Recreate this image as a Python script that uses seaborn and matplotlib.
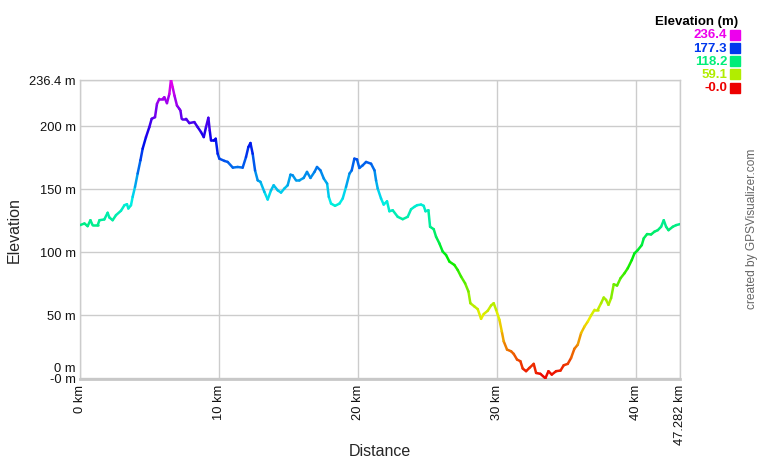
import colorsys
import matplotlib
matplotlib.use("Agg")
import matplotlib.pyplot as plt
import matplotlib.transforms as mtransforms
from matplotlib.colors import ListedColormap
from matplotlib.patches import Rectangle
import numpy as np
import pandas as pd
import seaborn as sns

# Elevation profile (km, m)
dist_km = [0.0, 0.32, 0.55, 0.75, 0.91, 1.27, 1.4, 1.75, 1.99, 2.11, 2.35, 2.59, 2.95, 3.2, 3.38, 3.48,
           3.67, 3.79, 3.96, 4.15, 4.35, 4.51, 4.75, 4.99, 5.16, 5.4, 5.54, 5.71, 5.95, 6.07, 6.26, 6.43,
           6.55, 6.67, 6.8, 6.98, 7.15, 7.23, 7.32, 7.63, 7.87, 8.23, 8.47, 8.71, 8.91, 9.07, 9.24, 9.34,
           9.43, 9.63, 9.77, 9.91, 10.03, 10.4, 10.63, 11.0, 11.35, 11.71, 11.95, 12.12, 12.27, 12.43,
           12.6, 12.79, 12.99, 13.27, 13.51, 13.75, 13.94, 14.23, 14.47, 14.71, 14.95, 15.15, 15.31,
           15.55, 15.79, 16.1, 16.34, 16.59, 16.88, 17.06, 17.31, 17.55, 17.79, 17.91, 18.07, 18.36,
           18.68, 18.91, 19.15, 19.4, 19.56, 19.75, 19.94, 20.11, 20.35, 20.59, 20.95, 21.2, 21.31,
           21.43, 21.67, 21.86, 22.1, 22.27, 22.51, 22.87, 23.23, 23.59, 23.83, 24.07, 24.26, 24.55,
           24.74, 24.87, 25.08, 25.2, 25.46, 25.63, 25.87, 26.11, 26.35, 26.59, 26.95, 27.19, 27.43,
           27.72, 27.96, 28.1, 28.39, 28.63, 28.87, 29.06, 29.35, 29.59, 29.78, 29.95, 30.19, 30.36,
           30.5, 30.74, 31.03, 31.22, 31.46, 31.7, 31.87, 32.11, 32.35, 32.66, 32.83, 33.14, 33.5,
           33.72, 33.96, 34.27, 34.59, 34.82, 35.11, 35.35, 35.59, 35.83, 36.07, 36.32, 36.56, 36.79,
           37.04, 37.27, 37.51, 37.7, 37.87, 38.04, 38.23, 38.42, 38.66, 38.91, 39.19, 39.43, 39.72,
           39.91, 40.15, 40.44, 40.58, 40.82, 41.11, 41.35, 41.59, 41.83, 42.02, 42.19, 42.36, 42.67,
           42.91, 43.19]
elev_m = [121.1, 122.4, 120.3, 125.0, 121.0, 121.0, 125.0, 125.6, 130.9, 127.2, 125.0, 129.0, 132.5,
          136.9, 137.7, 134.3, 136.9, 143.5, 151.4, 162.0, 172.5, 181.7, 190.9, 198.8, 205.4, 206.7,
          217.2, 221.2, 221.2, 222.5, 217.8, 225.1, 236.4, 230.4, 223.8, 215.9, 213.3, 211.9, 205.4,
          205.4, 202.0, 202.8, 198.8, 194.9, 190.9, 198.8, 206.2, 196.1, 188.2, 188.2, 189.6, 177.7,
          173.8, 172.0, 171.2, 166.7, 167.2, 166.7, 175.1, 183.0, 186.2, 177.7, 164.5, 156.6, 155.4,
          147.5, 141.4, 148.7, 152.7, 148.7, 146.9, 150.1, 152.7, 161.1, 160.6, 156.6, 156.6, 158.5,
          163.3, 158.5, 163.3, 167.2, 164.5, 158.0, 154.0, 143.5, 138.2, 136.4, 138.2, 142.2, 151.4,
          162.0, 164.5, 173.8, 173.2, 166.4, 168.5, 171.2, 169.8, 164.5, 156.6, 150.1, 142.2, 137.4,
          140.0, 132.1, 132.9, 127.7, 125.8, 127.7, 133.7, 135.6, 136.9, 137.4, 136.4, 132.1, 132.9,
          119.8, 117.9, 111.9, 106.6, 100.1, 97.4, 92.2, 89.5, 85.5, 80.3, 75.0, 68.5, 59.2, 56.6,
          54.5, 46.8, 50.6, 53.2, 57.4, 59.2, 54.0, 46.1, 36.9, 29.0, 22.4, 21.1, 19.0, 14.5, 13.2,
          7.4, 5.3, 7.9, 11.1, 3.9, 3.2, -0.3, 5.3, 2.6, 5.3, 5.8, 10.0, 11.1, 15.8, 23.1, 26.3, 35.5,
          40.8, 44.8, 49.5, 54.0, 54.0, 59.2, 63.7, 61.8, 57.9, 63.2, 74.2, 73.2, 79.0, 82.9, 86.9,
          93.4, 98.7, 101.3, 105.3, 110.6, 114.0, 113.7, 115.9, 117.1, 119.8, 125.0, 119.8, 117.1,
          119.8, 121.1, 121.9]

legend_values = [236.4, 177.3, 118.2, 59.1, -0.0]
legend_labels = ["236.4", "177.3", "118.2", "59.1", "-0.0"]
y_ticks = [-0.5, 0, 50, 100, 150, 200, 236.4]
y_tick_labels = ["-0 m", "0 m", "50 m", "100 m", "150 m", "200 m", "236.4 m"]
x_ticks = [0, 10, 20, 30, 40, 43.19]
x_tick_labels = ["0 km", "10 km", "20 km", "30 km", "40 km", "47.282 km"]

ELEV_MIN, ELEV_MAX = 0.0, 236.4

# red -> yellow -> green -> blue -> magenta, like GPS Visualizer
cmap = ListedColormap([colorsys.hsv_to_rgb(h, 1.0, 0.93) for h in np.linspace(0, 300 / 360, 256)])

# one small line per segment so the colour follows elevation
rows = []
for i in range(len(dist_km) - 1):
    c = (elev_m[i] + elev_m[i + 1]) / 2
    rows.append({"seg": i, "km": dist_km[i], "m": elev_m[i], "col": c})
    rows.append({"seg": i, "km": dist_km[i + 1], "m": elev_m[i + 1], "col": c})
seg_df = pd.DataFrame(rows)

sns.set_style("white")
plt.rcParams["font.family"] = ["Liberation Sans", "DejaVu Sans"]

fig = plt.figure(figsize=(7.6, 4.6), dpi=100)
ax = fig.add_axes([80 / 760, 1 - 379.5 / 460, 600 / 760, 298.8 / 460])

sns.lineplot(data=seg_df, x="km", y="m", hue="col", units="seg", estimator=None,
             palette=cmap, hue_norm=(ELEV_MIN, ELEV_MAX), legend=False,
             linewidth=1.8, ax=ax, zorder=3)

ax.set_xlim(0, 43.19)
ax.set_ylim(-0.5, 236.4)
ax.set_yticks(y_ticks)
ax.set_yticklabels(y_tick_labels)
ax.set_xticks(x_ticks)
ax.set_xticklabels(x_tick_labels, rotation=90)
ax.tick_params(axis="both", length=0, labelsize=9.3, colors="#111111")
ax.tick_params(axis="y", pad=3)
ax.tick_params(axis="x", pad=4)

# lift the two stacked zero labels like the original
offsets = {"0 m": 11, "-0 m": 1}
for lab in ax.get_yticklabels():
    if lab.get_text() in offsets:
        dy = offsets[lab.get_text()] / 100
        lab.set_transform(lab.get_transform() + mtransforms.ScaledTranslation(0, dy, fig.dpi_scale_trans))

ax.grid(True, color="#cccccc", linewidth=1)
for side in ["top", "right", "left"]:
    ax.spines[side].set_color("#cccccc")
    ax.spines[side].set_linewidth(1)
ax.spines["bottom"].set_color("#c8c8c8")
ax.spines["bottom"].set_linewidth(2)

ax.set_xlabel("Distance", fontsize=11.5)
ax.set_ylabel("Elevation", fontsize=11.5)
ax.xaxis.set_label_coords(0.5, -0.215)
ax.yaxis.set_label_coords(-0.097, 0.5)

# colour legend at top right
fig.text(738 / 760, 1 - 22 / 460, "Elevation (m)", ha="right", va="center",
         fontsize=9.5, fontweight="bold", color="#000000")
row_y = [35.5, 48.8, 62, 75.2, 88.5]
for val, lab, yy in zip(legend_values, legend_labels, row_y):
    col = cmap((val - ELEV_MIN) / (ELEV_MAX - ELEV_MIN))
    fig.text(727 / 760, 1 - yy / 460, lab, ha="right", va="center",
             fontsize=9.5, fontweight="bold", color=col)
    fig.patches.append(Rectangle((730 / 760, 1 - (yy + 5) / 460), 10 / 760, 10 / 460,
                                 transform=fig.transFigure, color=col, figure=fig))

fig.text(752 / 760, 1 - 229 / 460, "created by GPSVisualizer.com", rotation=90,
         ha="center", va="center", fontsize=8.6, color="#666666")

fig.savefig("out.png", dpi=100)
